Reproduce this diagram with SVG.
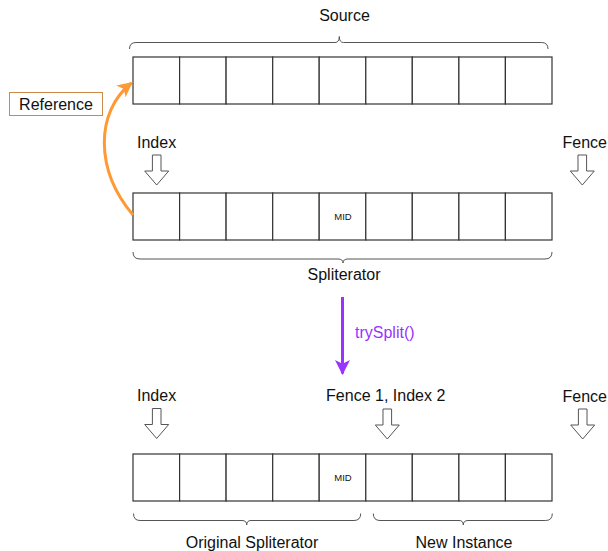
<svg xmlns="http://www.w3.org/2000/svg" width="608" height="551" viewBox="0 0 608 551">
  <style>
    .cell { fill: #ffffff; stroke: #333333; stroke-width: 1.2; }
    .brace { fill: none; stroke: #555555; stroke-width: 1; }
    .hollow { fill: #ffffff; stroke: #555555; stroke-width: 1; }
    .lbl { font-family: "Liberation Sans", Arial, sans-serif; font-size: 16px; fill: #111111; }
    .mid { font-family: "Liberation Sans", Arial, sans-serif; font-size: 9.5px; fill: #111111; text-anchor: middle; }
  </style>
  <defs>
    <g id="cells">
      <rect class="cell" x="133" y="0" width="46.6" height="47"/>
      <rect class="cell" x="179.6" y="0" width="46.5" height="47"/>
      <rect class="cell" x="226.1" y="0" width="46.6" height="47"/>
      <rect class="cell" x="272.7" y="0" width="46.5" height="47"/>
      <rect class="cell" x="319.2" y="0" width="46.6" height="47"/>
      <rect class="cell" x="365.8" y="0" width="46.5" height="47"/>
      <rect class="cell" x="412.3" y="0" width="46.6" height="47"/>
      <rect class="cell" x="458.9" y="0" width="46.5" height="47"/>
      <rect class="cell" x="505.4" y="0" width="46.6" height="47"/>
    </g>
    <path id="blockArrow" class="hollow" d="M-4.3,0 L4.3,0 L4.3,16 L12,16 L0,30 L-12,16 L-4.3,16 Z"/>
    <marker id="orangeHead" viewBox="0 0 10 10" refX="9" refY="5" markerWidth="5" markerHeight="5" orient="auto" markerUnits="strokeWidth">
      <path d="M0,0 L10,5 L0,10 L2.5,5 Z" fill="#FF9933"/>
    </marker>
    <marker id="purpleHead" viewBox="0 0 10 10" refX="9" refY="5" markerWidth="5" markerHeight="5" orient="auto" markerUnits="strokeWidth">
      <path d="M0,0 L10,5 L0,10 L2.5,5 Z" fill="#9933FF"/>
    </marker>
  </defs>

  <g id="source">
    <use href="#cells" y="57"/>
    <path class="brace" d="M129.5,49 Q129.5,42.5 136,42.5 L335,42.5 Q339.3,42.5 339.3,36.5 Q339.3,42.5 343.5,42.5 L541.5,42.5 Q548,42.5 548,49"/>
    <text class="lbl" x="344.5" y="21" text-anchor="middle">Source</text>
  </g>

  <g id="reference">
    <rect x="9.5" y="92.5" width="93" height="23" fill="#ffffff" stroke="#CC8A4A" stroke-width="1"/>
    <text class="lbl" x="56" y="109.5" text-anchor="middle">Reference</text>
  </g>

  <g id="spliterator">
    <use href="#cells" y="193"/>
    <text class="mid" x="343" y="220">MID</text>
    <path class="brace" d="M133,252 Q133,259 140,259 L338,259 Q343,259 343,263 Q343,259 348,259 L545,259 Q552,259 552,252"/>
    <text class="lbl" x="344" y="280" text-anchor="middle">Spliterator</text>
  </g>

  <g id="index-top">
    <text class="lbl" x="137" y="148">Index</text>
    <use href="#blockArrow" x="156.7" y="155"/>
  </g>

  <g id="fence-top">
    <text class="lbl" x="562.5" y="148">Fence</text>
    <use href="#blockArrow" x="582.3" y="155"/>
  </g>

  <g id="split-result">
    <use href="#cells" y="454"/>
    <text class="mid" x="343" y="481">MID</text>
  </g>

  <g id="index-bottom">
    <text class="lbl" x="137" y="401">Index</text>
    <use href="#blockArrow" x="156.7" y="408.5"/>
  </g>

  <g id="fence1-index2">
    <text class="lbl" x="385.7" y="401" text-anchor="middle">Fence 1, Index 2</text>
    <use href="#blockArrow" x="387.3" y="409"/>
  </g>

  <g id="fence-bottom">
    <text class="lbl" x="562.5" y="402">Fence</text>
    <use href="#blockArrow" x="582.7" y="409"/>
  </g>

  <g id="original-spliterator">
    <path class="brace" d="M133.5,513.5 Q133.5,520.5 140,520.5 L242,520.5 Q246.7,520.5 246.7,525 Q246.7,520.5 251,520.5 L354,520.5 Q360.7,520.5 360.7,513.5"/>
    <text class="lbl" x="252" y="548" text-anchor="middle">Original Spliterator</text>
  </g>

  <g id="new-instance">
    <path class="brace" d="M373.3,513.5 Q373.3,520.5 380,520.5 L459,520.5 Q463.3,520.5 463.3,525 Q463.3,520.5 468,520.5 L545.5,520.5 Q552.3,520.5 552.3,513.5"/>
    <text class="lbl" x="464" y="548" text-anchor="middle">New Instance</text>
  </g>

  <g id="connectors">
    <path d="M133,215 C95,170 95,112 131.5,83" fill="none" stroke="#FF9933" stroke-width="3" marker-end="url(#orangeHead)"/>
    <line x1="342.5" y1="297" x2="342.5" y2="373.5" stroke="#9933FF" stroke-width="3" marker-end="url(#purpleHead)"/>
    <text x="355" y="338" font-family="'Liberation Sans', Arial, sans-serif" font-size="16" fill="#9933FF">trySplit()</text>
  </g>
</svg>
